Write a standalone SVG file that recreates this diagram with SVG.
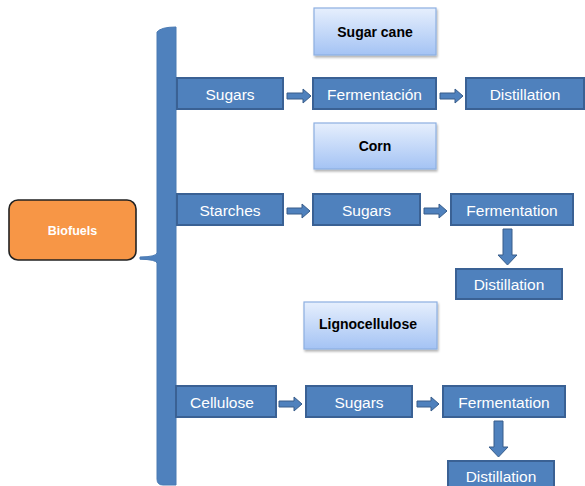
<svg xmlns="http://www.w3.org/2000/svg" width="585" height="486" viewBox="0 0 585 486">
<defs>
<linearGradient id="lg" x1="0" y1="0" x2="0" y2="1">
<stop offset="0" stop-color="#E6EFFD"/>
<stop offset="1" stop-color="#A4C3F4"/>
</linearGradient>
<filter id="sh" x="-10%" y="-10%" width="130%" height="140%">
<feDropShadow dx="1" dy="2" stdDeviation="1" flood-color="#000" flood-opacity="0.3"/>
</filter>
</defs>
<style>
.b{fill:#4F81BD;stroke:#3A6194;stroke-width:2}
.w{fill:#fff;font-family:"Liberation Sans",Arial,sans-serif;font-size:15.5px;text-anchor:middle}
.h{fill:url(#lg);stroke:#8DB0E2;stroke-width:1.2;filter:url(#sh)}
.k{fill:#000;font-family:"Liberation Sans",Arial,sans-serif;font-size:14px;font-weight:bold;text-anchor:middle}
.a{fill:#4F81BD;stroke:#385D8A;stroke-width:1}
</style>
<g id="brace">
<path d="M157,32 Q161,27 176,27 L176,485 L163,485 Q157,485 157,479 L157,263 Q156,259.5 140,259.2 L140,257 Q156,256.8 157,253 Z" fill="#4F81BD" stroke="#4A7AB3" stroke-width="1"/>
</g>
<g id="biofuels">
<rect x="9" y="200" width="127" height="60" rx="9" fill="#F79646" stroke="#222" stroke-width="1.6"/>
<text x="72.5" y="235" fill="#fff" font-family="Liberation Sans,Arial,sans-serif" font-size="12.5" font-weight="bold" text-anchor="middle">Biofuels</text>
</g>
<g id="sugarcane">
<rect class="h" x="314" y="8" width="122" height="47"/>
<text class="k" x="375" y="37">Sugar cane</text>
</g>
<g id="corn">
<rect class="h" x="314" y="123" width="122" height="46"/>
<text class="k" x="375" y="151">Corn</text>
</g>
<g id="lignocellulose">
<rect class="h" x="304" y="302" width="133" height="47"/>
<text class="k" x="368" y="329">Lignocellulose</text>
</g>
<g id="sugars1">
<rect class="b" x="177" y="78" width="106" height="31"/>
<text class="w" x="230" y="99.5">Sugars</text>
</g>
<g id="fermentacion1">
<rect class="b" x="313" y="78" width="123" height="31"/>
<text class="w" x="374.5" y="99.5">Fermentación</text>
</g>
<g id="distillation1">
<rect class="b" x="466" y="78" width="118" height="31"/>
<text class="w" x="525" y="99.5">Distillation</text>
</g>
<g id="starches">
<rect class="b" x="177" y="194" width="106" height="31"/>
<text class="w" x="230" y="215.5">Starches</text>
</g>
<g id="sugars2">
<rect class="b" x="313" y="194" width="107" height="31"/>
<text class="w" x="366.5" y="215.5">Sugars</text>
</g>
<g id="fermentation2">
<rect class="b" x="451" y="194" width="122" height="31"/>
<text class="w" x="512" y="215.5">Fermentation</text>
</g>
<g id="distillation2">
<rect class="b" x="456" y="269" width="106" height="30"/>
<text class="w" x="509" y="290">Distillation</text>
</g>
<g id="cellulose">
<rect class="b" x="176" y="386" width="100" height="31"/>
<text class="w" x="222" y="407.5">Cellulose</text>
</g>
<g id="sugars3">
<rect class="b" x="306" y="386" width="106" height="31"/>
<text class="w" x="359" y="407.5">Sugars</text>
</g>
<g id="fermentation3">
<rect class="b" x="443" y="386" width="122" height="31"/>
<text class="w" x="504" y="407.5">Fermentation</text>
</g>
<g id="distillation3">
<rect class="b" x="448" y="461" width="106" height="30"/>
<text class="w" x="501" y="482">Distillation</text>
</g>
<g id="connectors">
<path class="a" d="M287,93 L303,93 L303,89 L311,96 L303,103 L303,99 L287,99 Z"/>
<path class="a" d="M440,93 L455,93 L455,89 L463,96 L455,103 L455,99 L440,99 Z"/>
<path class="a" d="M287,208 L302,208 L302,204 L310,211 L302,218 L302,214 L287,214 Z"/>
<path class="a" d="M424,208 L439,208 L439,204 L447,211 L439,218 L439,214 L424,214 Z"/>
<path class="a" d="M503,229 L512,229 L512,255 L517,255 L507.5,265 L498,255 L503,255 Z"/>
<path class="a" d="M279,401 L294,401 L294,397 L302,404 L294,411 L294,407 L279,407 Z"/>
<path class="a" d="M417,401 L431,401 L431,397 L439,404 L431,411 L431,407 L417,407 Z"/>
<path class="a" d="M494,421 L503,421 L503,447 L508,447 L498.5,457 L489,447 L494,447 Z"/>
</g>
</svg>
